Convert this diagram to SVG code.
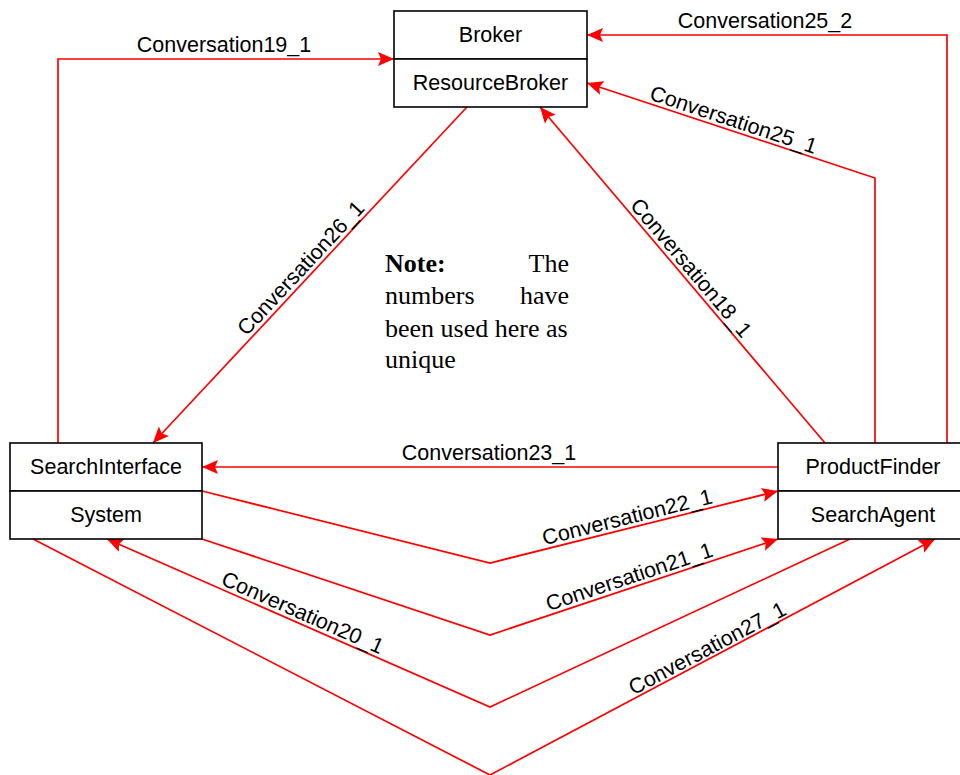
<svg xmlns="http://www.w3.org/2000/svg" width="960" height="775" viewBox="0 0 960 775">
<style>
.box{fill:#fff;stroke:#000;stroke-width:1.6}
.nt{font-family:"Liberation Sans",Arial,sans-serif;font-size:21.5px;fill:#000;text-anchor:middle}
.c{fill:none;stroke:#ff0000;stroke-width:1.7}
.lb{font-family:"Liberation Sans",Arial,sans-serif;font-size:21.5px;fill:#000;text-anchor:middle}
.note{font-family:"Liberation Serif","Times New Roman",serif;font-size:26px;fill:#000}
</style>
<defs>
<marker id="ah" markerUnits="userSpaceOnUse" markerWidth="20" markerHeight="20" viewBox="-18 -10 20 20" refX="0" refY="0" orient="auto">
<path d="M0,0 L-16,-7 L-13,0 L-16,7 Z" fill="#ff0000"/>
</marker>
</defs>
<rect width="960" height="775" fill="#fff"/>
<g id="connectors">
<polyline class="c" points="58,443 58,59 394,59" marker-end="url(#ah)"/>
<text class="lb" x="224" y="52">Conversation19_1</text>
<polyline class="c" points="947,443 947,35 587,35" marker-end="url(#ah)"/>
<text class="lb" x="765" y="28">Conversation25_2</text>
<polyline class="c" points="875,443 875,178 587,83" marker-end="url(#ah)"/>
<text class="lb" x="730" y="130.4" dy="-4" transform="rotate(18.3 730 130.4)">Conversation25_1</text>
<line class="c" x1="825" y1="443" x2="540" y2="107" marker-end="url(#ah)"/>
<text class="lb" x="682.6" y="275.2" dy="-4" transform="rotate(49.7 682.6 275.2)">Conversation18_1</text>
<line class="c" x1="467" y1="107" x2="153" y2="443" marker-end="url(#ah)"/>
<text class="lb" x="309" y="275.7" dy="-4" transform="rotate(-47 309 275.7)">Conversation26_1</text>
<line class="c" x1="778" y1="467" x2="202" y2="467" marker-end="url(#ah)"/>
<text class="lb" x="489" y="460">Conversation23_1</text>
<polyline class="c" points="202,491 490,563 778,491" marker-end="url(#ah)"/>
<text class="lb" x="630" y="528" dy="-4" transform="rotate(-14 630 528)">Conversation22_1</text>
<polyline class="c" points="202,539 490,635 778,539" marker-end="url(#ah)"/>
<text class="lb" x="632.8" y="587.4" dy="-4" transform="rotate(-18.4 632.8 587.4)">Conversation21_1</text>
<polyline class="c" points="850,539 490,707 107,539" marker-end="url(#ah)"/>
<text class="lb" x="298.3" y="623" dy="-4" transform="rotate(23.7 298.3 623)">Conversation20_1</text>
<polyline class="c" points="33,539 490,775 935,539" marker-end="url(#ah)"/>
<text class="lb" x="712" y="657.4" dy="-3" transform="rotate(-27.9 712 657.4)">Conversation27_1</text>
</g>
<g id="broker">
<rect class="box" x="394" y="11" width="193" height="48"/>
<rect class="box" x="394" y="59" width="193" height="48"/>
<text class="nt" x="490.5" y="42">Broker</text>
<text class="nt" x="490.5" y="90">ResourceBroker</text>
</g>
<g id="searchinterface">
<rect class="box" x="10" y="443" width="192" height="48"/>
<rect class="box" x="10" y="491" width="192" height="48"/>
<text class="nt" x="106" y="474">SearchInterface</text>
<text class="nt" x="106" y="522">System</text>
</g>
<g id="productfinder">
<rect class="box" x="778" y="443" width="190" height="48"/>
<rect class="box" x="778" y="491" width="190" height="48"/>
<text class="nt" x="873" y="474">ProductFinder</text>
<text class="nt" x="873" y="522">SearchAgent</text>
</g>
<g id="note">
<text class="note" x="385" y="272" font-weight="bold">Note:</text>
<text class="note" x="569" y="272" text-anchor="end">The</text>
<text class="note" x="385" y="304">numbers</text>
<text class="note" x="569" y="304" text-anchor="end">have</text>
<text class="note" x="385" y="337">been used here as</text>
<text class="note" x="385" y="368">unique</text>
</g>
</svg>
